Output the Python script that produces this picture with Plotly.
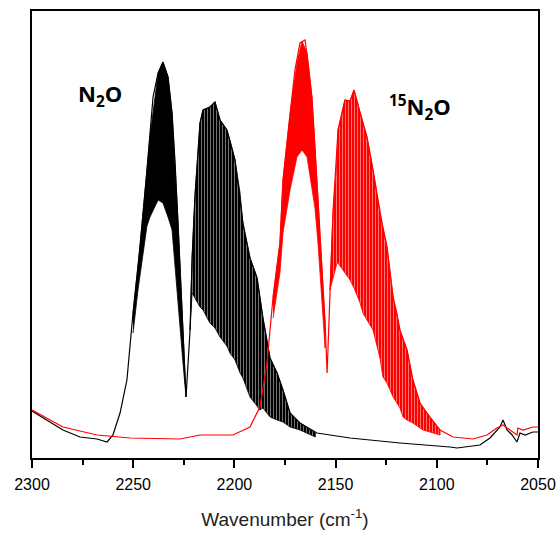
import plotly.graph_objects as go

# ---------------- data (wavenumber in cm-1, absorbance in arbitrary units) ----------------
# N2O : upper envelope / full trace
wn_n2o = [2300.0, 2292.6, 2284.7, 2276.3, 2267.9, 2262.9, 2260.0, 2256.5, 2253.1, 2250.1,
          2246.6, 2243.2, 2240.2, 2237.7, 2235.3, 2232.8, 2230.8, 2229.3, 2226.9, 2225.4,
          2223.9, 2221.9, 2220.9, 2219.5, 2217.0, 2215.5, 2212.1, 2209.6, 2207.1, 2203.7,
          2199.7, 2195.8, 2192.3, 2188.8, 2185.9, 2182.4, 2178.9, 2176.0, 2172.5, 2167.6,
          2159.2, 2142.9, 2118.2, 2093.5, 2090.0, 2078.7, 2073.7, 2068.8, 2067.3, 2065.3,
          2062.8, 2060.4, 2058.9, 2056.4, 2052.5, 2050.0]
ab_n2o = [0.047, 0.038, 0.028, 0.021, 0.019, 0.016, 0.023, 0.045, 0.078, 0.145,
          0.211, 0.288, 0.361, 0.385, 0.396, 0.381, 0.345, 0.295, 0.195, 0.128,
          0.061, 0.128, 0.200, 0.261, 0.335, 0.348, 0.351, 0.356, 0.338, 0.328,
          0.298, 0.235, 0.200, 0.180, 0.140, 0.100, 0.085, 0.068, 0.045, 0.035,
          0.025, 0.020, 0.015, 0.011, 0.010, 0.013, 0.020, 0.031, 0.038, 0.028,
          0.023, 0.016, 0.025, 0.023, 0.026, 0.026]

# N2O R-branch (rotational lines, envelope)
wn_n2o_R = [2250.1, 2247.5, 2243.2, 2241.7, 2237.7, 2235.3, 2232.8, 2230.8, 2227.9, 2225.4, 2223.9]
up_n2o_R = [0.145, 0.195, 0.288, 0.322, 0.385, 0.396, 0.381, 0.345, 0.240, 0.128, 0.061]
lo_n2o_R = [0.125, 0.170, 0.232, 0.241, 0.258, 0.255, 0.241, 0.228, 0.161, 0.095, 0.061]

# N2O P-branch
wn_n2o_P = [2221.9, 2220.9, 2219.5, 2217.0, 2215.5, 2212.1, 2209.6, 2207.1, 2203.7, 2202.2,
            2199.7, 2197.2, 2195.8, 2192.3, 2188.8, 2187.4, 2185.9, 2182.4, 2178.9, 2176.0,
            2172.5, 2167.6, 2160.0]
up_n2o_P = [0.128, 0.200, 0.261, 0.335, 0.348, 0.351, 0.356, 0.338, 0.328, 0.318,
            0.298, 0.265, 0.235, 0.200, 0.180, 0.160, 0.140, 0.100, 0.085, 0.068,
            0.045, 0.035, 0.025]
lo_n2o_P = [0.128, 0.165, 0.160, 0.151, 0.148, 0.135, 0.130, 0.121, 0.112, 0.105,
            0.098, 0.085, 0.080, 0.061, 0.052, 0.048, 0.050, 0.041, 0.038, 0.036,
            0.031, 0.028, 0.021]

# 15N2O : upper envelope / full trace
wn_15n2o = [2300.0, 2284.7, 2267.9, 2251.6, 2226.9, 2217.0, 2200.7, 2192.3, 2187.4, 2183.9,
            2180.9, 2177.5, 2176.0, 2172.5, 2170.1, 2167.6, 2165.1, 2163.6, 2161.7, 2160.2,
            2158.7, 2156.7, 2155.2, 2154.2, 2152.8, 2151.3, 2148.8, 2145.4, 2142.9, 2140.9,
            2137.9, 2134.5, 2131.5, 2128.1, 2124.6, 2121.6, 2118.2, 2114.7, 2111.8, 2108.3,
            2103.4, 2098.4, 2092.0, 2082.1, 2075.2, 2070.3, 2067.3, 2063.8, 2060.4, 2059.9,
            2057.4, 2052.5, 2050.0]
ab_15n2o = [0.048, 0.031, 0.023, 0.020, 0.019, 0.023, 0.023, 0.031, 0.051, 0.095,
            0.161, 0.215, 0.278, 0.345, 0.388, 0.415, 0.418, 0.395, 0.361, 0.311,
            0.261, 0.195, 0.135, 0.085, 0.168, 0.245, 0.328, 0.358, 0.357, 0.368,
            0.345, 0.321, 0.288, 0.245, 0.211, 0.161, 0.128, 0.108, 0.078, 0.055,
            0.041, 0.028, 0.021, 0.019, 0.023, 0.030, 0.033, 0.028, 0.023, 0.030,
            0.028, 0.031, 0.031]

# 15N2O R-branch
wn_15n2o_R = [2180.9, 2177.5, 2176.0, 2172.5, 2169.1, 2166.6, 2164.1, 2161.7, 2160.2, 2158.7, 2156.7, 2155.2]
up_15n2o_R = [0.161, 0.215, 0.278, 0.345, 0.395, 0.417, 0.405, 0.361, 0.311, 0.261, 0.195, 0.135]
lo_15n2o_R = [0.140, 0.185, 0.225, 0.268, 0.301, 0.308, 0.301, 0.268, 0.250, 0.215, 0.160, 0.110]

# 15N2O P-branch
wn_15n2o_P = [2152.8, 2151.3, 2149.3, 2148.8, 2145.4, 2142.9, 2140.9, 2137.9, 2136.5, 2134.5,
              2131.5, 2128.1, 2126.6, 2124.6, 2121.6, 2119.7, 2118.2, 2116.7, 2114.7, 2111.8,
              2108.3, 2106.8, 2103.4, 2098.4]
up_15n2o_P = [0.168, 0.245, 0.300, 0.328, 0.358, 0.357, 0.368, 0.345, 0.335, 0.321,
              0.288, 0.245, 0.230, 0.211, 0.161, 0.145, 0.128, 0.118, 0.108, 0.078,
              0.055, 0.050, 0.041, 0.028]
lo_15n2o_P = [0.168, 0.180, 0.195, 0.195, 0.185, 0.178, 0.170, 0.155, 0.145, 0.138,
              0.128, 0.100, 0.081, 0.075, 0.061, 0.055, 0.050, 0.041, 0.038, 0.035,
              0.030, 0.028, 0.026, 0.023]

tick_vals = [2300, 2250, 2200, 2150, 2100, 2050]
tick_text = ["2300", "2250", "2200", "2150", "2100", "2050"]

BLACK = "#000000"
RED = "#ff0000"

fig = go.Figure()


def band(wn, up, lo, color, pattern):
    xs = list(wn) + list(wn)[::-1]
    ys = list(up) + list(lo)[::-1]
    kw = dict(x=xs, y=ys, mode="lines", fill="toself", line=dict(color=color, width=0.8),
              fillcolor=color, hoverinfo="skip", showlegend=False)
    if pattern:
        # thin white gaps between individual rotational lines
        kw["fillpattern"] = dict(shape="|", size=3, solidity=0.3, fgcolor="white",
                                 fillmode="overlay")
    fig.add_trace(go.Scatter(**kw))


# N2O
band(wn_n2o_R, up_n2o_R, lo_n2o_R, BLACK, False)
band(wn_n2o_P, up_n2o_P, lo_n2o_P, BLACK, True)
fig.add_trace(go.Scatter(x=wn_n2o, y=ab_n2o, mode="lines", line=dict(color=BLACK, width=1.2),
                         name="N2O", showlegend=False))
# 15N2O
band(wn_15n2o_R, up_15n2o_R, lo_15n2o_R, RED, False)
band(wn_15n2o_P, up_15n2o_P, lo_15n2o_P, RED, True)
fig.add_trace(go.Scatter(x=wn_15n2o, y=ab_15n2o, mode="lines", line=dict(color=RED, width=1.2),
                         name="15N2O", showlegend=False))

fig.add_annotation(text="<b>N<sub>2</sub>O</b>", xref="paper", yref="paper",
                   x=0.134, y=0.812, xanchor="center", yanchor="middle", showarrow=False,
                   font=dict(family="Open Sans", size=22, color="black"))
fig.add_annotation(text="<b><sup>15</sup>N<sub>2</sub>O</b>", xref="paper", yref="paper",
                   x=0.766, y=0.783, xanchor="center", yanchor="middle", showarrow=False,
                   font=dict(family="Open Sans", size=22, color="black"))

fig.update_layout(
    width=558, height=533,
    margin=dict(l=32, r=20, t=11, b=75),
    paper_bgcolor="white", plot_bgcolor="white",
    font=dict(family="Liberation Sans, Arial", color="black"),
)
fig.update_xaxes(
    range=[2300, 2050], showgrid=False, zeroline=False, automargin=False,
    showline=True, linecolor="black", linewidth=2, mirror=True,
    ticks="outside", ticklen=8, tickwidth=2, tickcolor="black",
    tickvals=tick_vals, ticktext=tick_text, ticklabelstandoff=3,
    tickfont=dict(family="Liberation Sans, Arial", size=16, color="black"),
    minor=dict(ticks="outside", ticklen=5, tickwidth=1.5, tickcolor="black", dtick=25),
    title=dict(text="Wavenumber (cm<sup>-1</sup>)", standoff=20,
               font=dict(family="Liberation Sans, Arial", size=19, color="#222")),
)
fig.update_yaxes(
    range=[0, 0.447], showgrid=False, zeroline=False, automargin=False,
    showline=True, linecolor="black", linewidth=2, mirror=True,
    ticks="", showticklabels=False,
)

fig.write_html("out.html",
               config={"displayModeBar": False, "responsive": False},
               post_script="document.body.style.margin='0px';document.body.style.overflow='hidden';")
